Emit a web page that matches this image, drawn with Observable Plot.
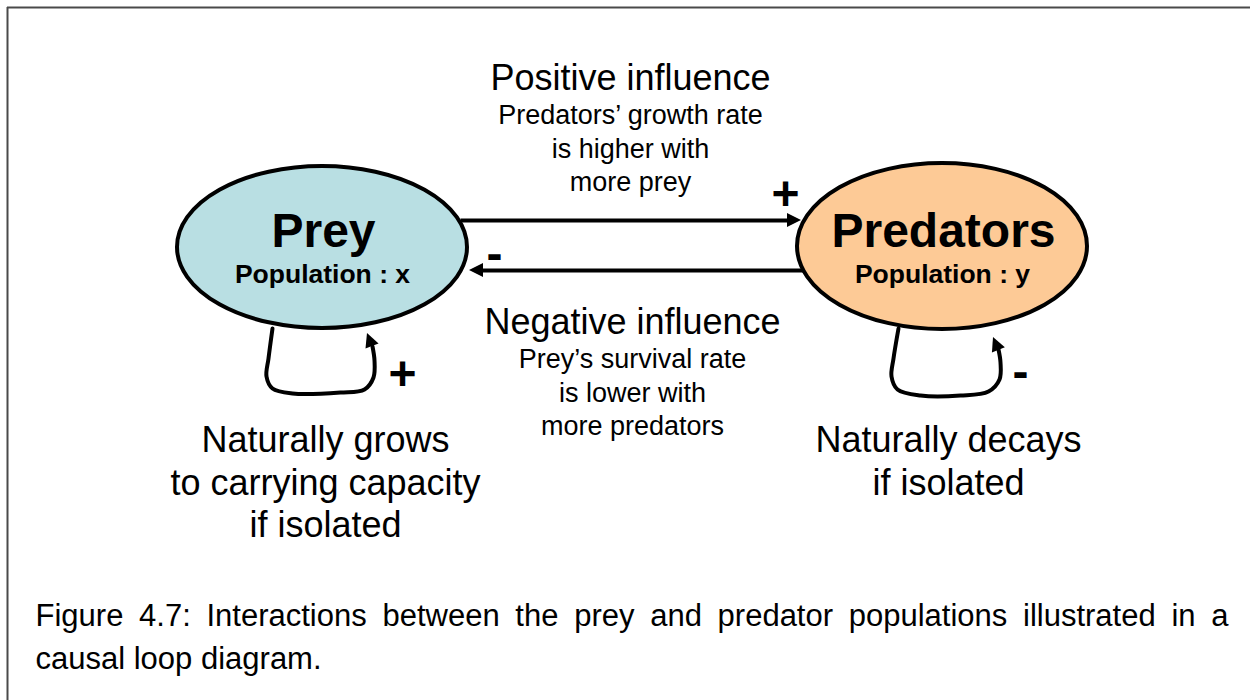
<!DOCTYPE html>
<html><head><meta charset="utf-8">
<script src="https://cdn.jsdelivr.net/npm/d3@7"></script>
<script src="https://cdn.jsdelivr.net/npm/@observablehq/plot@0.6"></script>
<style>
html,body{margin:0;padding:0;background:#fff;}
#chart svg{display:block;font-family:"Liberation Sans",Arial,Helvetica,sans-serif;}
</style>
</head><body><div id="chart"></div>
<script>
// ---- content (data) ----
const nodeNames = ["Prey", "Predators"];
const nodeSubtitles = ["Population : x", "Population : y"];
const linkSigns = ["+", "-"];
const linkTitles = ["Positive influence", "Negative influence"];
const linkNotes = [
  ["Predators’ growth rate", "is higher with", "more prey"],
  ["Prey’s survival rate", "is lower with", "more predators"]
];
const loopSigns = ["+", "-"];
const loopNotes = [
  ["Naturally grows", "to carrying capacity", "if isolated"],
  ["Naturally decays", "if isolated"]
];
const captionLines = [
  "Figure 4.7: Interactions between the prey and predator populations illustrated in a",
  "causal loop diagram."
];

// ---- layout (diagram coordinates, px) ----
const nodeX = [322, 942], nodeY = [247, 246], nodeRX = [145, 145], nodeRY = [81, 83];
const nodeFill = ["#b9dfe3", "#fdca96"];
const linkY = [220, 270];
const linkFrom = [460, 804], linkTo = [801, 469];
const linkTitleX = [630, 632], linkTitleY = [78, 322];
const linkSignX = [785, 494], linkSignY = [194, 254];
const loopPaths = [
  [[272,328],[268,358],[266,376],[272,388],[292,393],[340,392],[364,389],[373,377],[374,360],[372,346]],
  [[898,328],[893,358],[891,376],[897,389],[920,395],[960,395],[988,391],[999,379],[1000,362],[998,349]]
];
const loopTips = [[367,333],[993,337]];
const loopSignX = [402, 1020], loopSignY = [374, 372];
const loopNoteX = [325, 948], loopNoteY = 440;

// ---- build tables ----
const links = linkY.map((y, i) => ({x1: linkFrom[i], x2: linkTo[i] + (linkTo[i] > linkFrom[i] ? -12 : 12), y}));
const heads = [
  ...linkY.map((y, i) => ({tip: [linkTo[i], y], from: [linkFrom[i], y]})),
  ...loopTips.map((t, i) => ({tip: t, from: loopPaths[i][loopPaths[i].length - 1]}))
];
const loopRows = loopPaths.flatMap((p, i) => p.map(([x, y]) => ({loop: i, x, y})));

const titleRows = linkTitles.map((t, i) => ({text: t, x: linkTitleX[i], y: linkTitleY[i]}));
const noteRows = linkNotes.flatMap((lines, i) => lines.map((t, j) => ({text: t, x: linkTitleX[i], y: linkTitleY[i] + 37 + j * 33.5})));
const nameRows = nodeNames.map((t, i) => ({text: t, x: nodeX[i] + 1, y: 231}));
const subRows = nodeSubtitles.map((t, i) => ({text: t, x: nodeX[i], y: 274}));
const signRows = [
  ...linkSigns.map((t, i) => ({text: t, x: linkSignX[i], y: linkSignY[i]})),
  ...loopSigns.map((t, i) => ({text: t, x: loopSignX[i], y: loopSignY[i]}))
];
const loopNoteRows = loopNotes.flatMap((lines, i) => lines.map((t, j) => ({text: t, x: loopNoteX[i], y: loopNoteY + j * 42.5})));
const captionRows = captionLines.map((t, i) => ({text: t, x: 35, y: 616 + i * 43}));

function ellipseMark(index, scales) {
  const g = d3.create("svg:g");
  nodeNames.forEach((n, i) => {
    g.append("ellipse")
      .attr("cx", scales.x(nodeX[i])).attr("cy", scales.y(nodeY[i]))
      .attr("rx", scales.x(nodeX[i] + nodeRX[i]) - scales.x(nodeX[i]))
      .attr("ry", scales.y(nodeY[i] + nodeRY[i]) - scales.y(nodeY[i]))
      .attr("fill", nodeFill[i]).attr("stroke", "#000").attr("stroke-width", 4);
  });
  return g.node();
}
function headMark(index, scales) {
  const g = d3.create("svg:g");
  heads.forEach(h => {
    const tx = scales.x(h.tip[0]), ty = scales.y(h.tip[1]);
    const fx = scales.x(h.from[0]), fy = scales.y(h.from[1]);
    const a = Math.atan2(ty - fy, tx - fx);
    const L = 14, W = 7;
    const bx = tx - L * Math.cos(a), by = ty - L * Math.sin(a);
    const px = -Math.sin(a) * W, py = Math.cos(a) * W;
    g.append("path")
      .attr("d", `M${tx},${ty}L${bx + px},${by + py}L${bx - px},${by - py}Z`)
      .attr("fill", "#000");
  });
  return g.node();
}

const plot = Plot.plot({
  width: 1250, height: 700, margin: 0,
  x: {domain: [0, 1250], range: [0, 1250], axis: null},
  y: {domain: [0, 700], range: [0, 700], axis: null},
  marks: [
    Plot.ruleY([7], {x1: 7, x2: 1250, stroke: "#4a4a4a", strokeWidth: 2}),
    Plot.ruleX([7], {y1: 7, y2: 700, stroke: "#4a4a4a", strokeWidth: 2}),
    Plot.link(links, {x1: "x1", x2: "x2", y1: "y", y2: "y", stroke: "#000", strokeWidth: 4}),
    Plot.line(loopRows, {x: "x", y: "y", z: "loop", curve: "catmull-rom", stroke: "#000", strokeWidth: 4, strokeLinecap: "round"}),
    headMark,
    ellipseMark,
    Plot.text(titleRows, {x: "x", y: "y", text: "text", fontSize: 36, fill: "#000"}),
    Plot.text(noteRows, {x: "x", y: "y", text: "text", fontSize: 27, fill: "#000"}),
    Plot.text(nameRows, {x: "x", y: "y", text: "text", fontSize: 48, fontWeight: "bold", fill: "#000"}),
    Plot.text(subRows, {x: "x", y: "y", text: "text", fontSize: 26.5, fontWeight: "bold", fill: "#000"}),
    Plot.text(signRows, {x: "x", y: "y", text: "text", fontSize: 48, fontWeight: "bold", fill: "#000"}),
    Plot.text(loopNoteRows, {x: "x", y: "y", text: "text", fontSize: 36, fill: "#000"}),
    Plot.text(captionRows, {x: "x", y: "y", text: "text", fontSize: 31, textAnchor: "start", fill: "#000"})
  ]
});
document.getElementById("chart").appendChild(plot);

// justify the first caption line like the reference
const targetWidth = 1228 - 35;
d3.select(plot).selectAll("text").each(function() {
  if (this.textContent === captionLines[0]) {
    const natural = this.getComputedTextLength();
    const spaces = captionLines[0].split(" ").length - 1;
    d3.select(this).style("word-spacing", ((targetWidth - natural) / spaces) + "px");
  }
});
</script>
</body></html>
